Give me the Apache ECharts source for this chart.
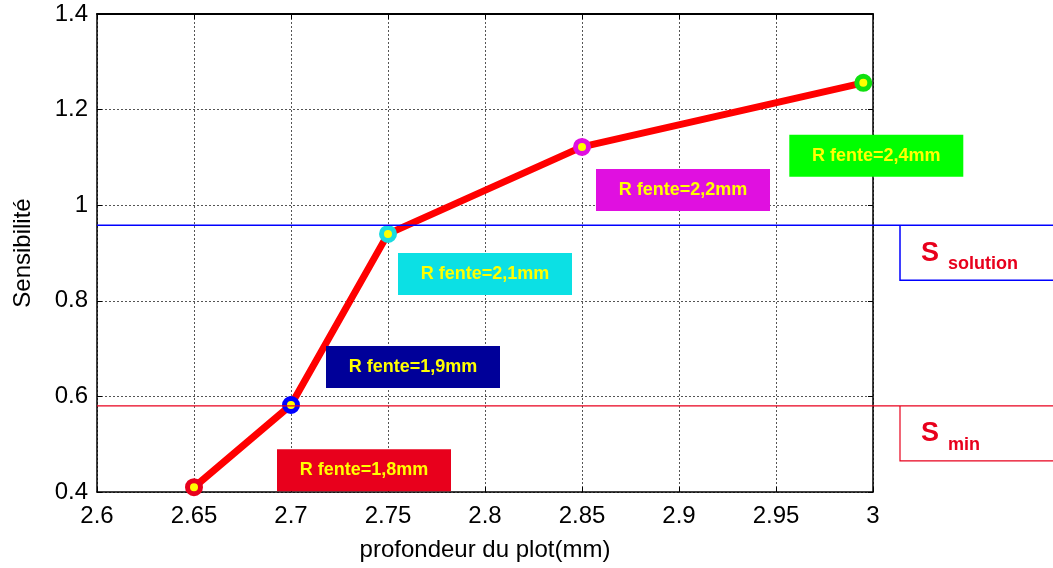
<!DOCTYPE html>
<html>
<head>
<meta charset="utf-8">
<script src="https://cdn.jsdelivr.net/npm/echarts@6/dist/echarts.min.js"></script>
<style>
  html, body { margin: 0; padding: 0; background: #fff; }
  #chart { width: 1053px; height: 568px; }
</style>
</head>
<body>
<div id="chart"></div>
<script>
// valeurs
const depth = [2.65, 2.7, 2.75, 2.85, 2.995];
const sensitivity = [0.41, 0.582, 0.94, 1.122, 1.256];
const slotLabels = ['R fente=1,8mm', 'R fente=1,9mm', 'R fente=2,1mm', 'R fente=2,2mm', 'R fente=2,4mm'];
// seuils horizontaux
const thresholdValues = [0.958, 0.58];
const thresholdNames = ['solution', 'min'];

// styles
const ringColors = ['#e8001c', '#0000ff', '#19dbe0', '#e010e0', '#10e010'];
const boxColors = ['#e8001c', '#000099', '#0ce0e4', '#e010e0', '#00ff00'];
const labelOffsets = [[170, -17], [122, -38], [97, 40], [101, 43], [13, 73]];
const thresholdColors = ['#0000ff', '#e8001c'];
const FONT = 'Liberation Sans, Arial, sans-serif';

let chart = echarts.init(document.getElementById('chart'));

const points = depth.map((d, i) => ({
  value: [d, sensitivity[i]],
  itemStyle: {color: '#ffff00', borderColor: ringColors[i], borderWidth: 5},
  label: {
    show: true,
    position: 'inside',
    formatter: slotLabels[i],
    offset: labelOffsets[i],
    backgroundColor: boxColors[i],
    width: 174,
    height: 42,
    lineHeight: 42,
    align: 'center',
    verticalAlign: 'middle',
    color: '#ffff00',
    fontWeight: 'bold',
    fontSize: 18,
    fontFamily: FONT
  }
}));

const gridLine = {show: true, lineStyle: {color: '#555', type: [2, 2], width: 1}};
const axisText = {color: '#000', fontSize: 24, fontFamily: FONT};

chart.setOption({
  animation: false,
  grid: {left: 97, right: 180, top: 14, bottom: 76},
  xAxis: [{
    type: 'value',
    min: 2.6, max: 3, interval: 0.05,
    name: 'profondeur du plot(mm)',
    nameLocation: 'middle',
    nameGap: 46,
    nameTextStyle: {color: '#000', fontSize: 24, fontFamily: FONT},
    axisLine: {show: true, onZero: false, lineStyle: {color: '#000', width: 1.5}},
    axisTick: {show: true, inside: true, length: 5, lineStyle: {color: '#000'}},
    axisLabel: Object.assign({margin: 12}, axisText),
    splitLine: gridLine
  }, {
    type: 'value', position: 'top',
    min: 2.6, max: 3, interval: 0.05,
    axisLine: {show: true, onZero: false, lineStyle: {color: '#000', width: 2}},
    axisTick: {show: true, inside: true, length: 5, lineStyle: {color: '#000'}},
    axisLabel: {show: false},
    splitLine: {show: false}
  }],
  yAxis: [{
    type: 'value',
    min: 0.4, max: 1.4, interval: 0.2,
    name: 'Sensibilité',
    nameLocation: 'middle',
    nameGap: 62,
    nameTextStyle: {color: '#000', fontSize: 24, fontFamily: FONT},
    axisLine: {show: true, onZero: false, lineStyle: {color: '#000', width: 1.5}},
    axisTick: {show: true, inside: true, length: 5, lineStyle: {color: '#000'}},
    axisLabel: Object.assign({margin: 9}, axisText),
    splitLine: gridLine
  }, {
    type: 'value', position: 'right',
    min: 0.4, max: 1.4, interval: 0.2,
    axisLine: {show: true, onZero: false, lineStyle: {color: '#000', width: 1.5}},
    axisTick: {show: true, inside: true, length: 5, lineStyle: {color: '#000'}},
    axisLabel: {show: false},
    splitLine: {show: false}
  }],
  series: [{
    type: 'line',
    data: points,
    symbol: 'circle',
    symbolSize: 13,
    lineStyle: {color: '#ff0000', width: 7},
    z: 3
  }]
});

// lignes de seuil qui débordent à droite du cadre
const graphics = [];
const left = chart.convertToPixel({xAxisIndex: 0}, 2.6);
const right = chart.convertToPixel({xAxisIndex: 0}, 3);
thresholdValues.forEach((v, i) => {
  const y = chart.convertToPixel({yAxisIndex: 0}, v);
  const w = i === 0 ? 1.5 : 1.2;
  graphics.push({
    type: 'line', z: 10,
    shape: {x1: left, y1: y, x2: 1053, y2: y},
    style: {stroke: thresholdColors[i], lineWidth: w}
  });
  graphics.push({
    type: 'polyline', z: 10,
    shape: {points: [[right + 27, y], [right + 27, y + 55], [1053, y + 55]]},
    style: {stroke: thresholdColors[i], lineWidth: w, fill: null}
  });
  graphics.push({
    type: 'text', z: 10,
    x: right + 48, y: y + 28,
    style: {text: 'S', fontSize: 27, fontWeight: 'bold', fill: '#e8001c',
            fontFamily: FONT, verticalAlign: 'middle'}
  });
  graphics.push({
    type: 'text', z: 10,
    x: right + 75, y: y + 39,
    style: {text: thresholdNames[i], fontSize: 18, fontWeight: 'bold', fill: '#e8001c',
            fontFamily: FONT, verticalAlign: 'middle'}
  });
});
chart.setOption({graphic: graphics});
</script>
</body>
</html>
